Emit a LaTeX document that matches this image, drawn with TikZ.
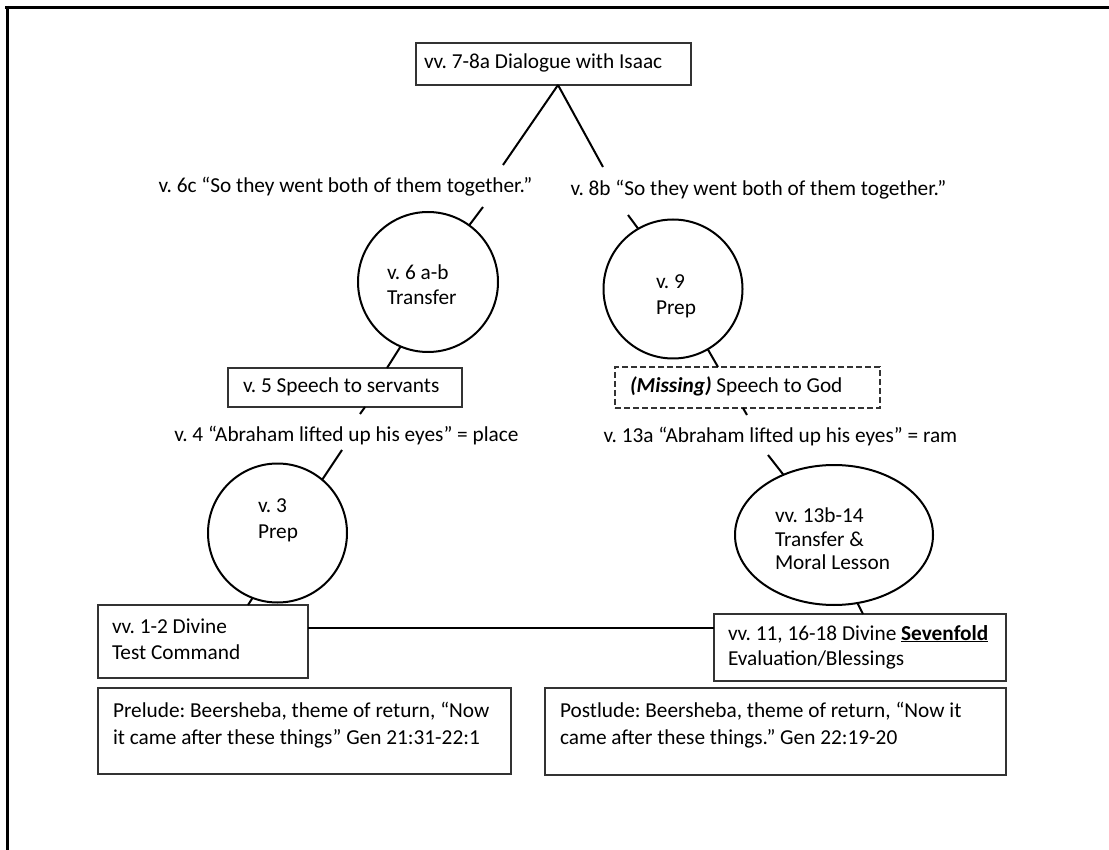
\documentclass[tikz,border=0pt]{standalone}
\usepackage{fontspec}
\setmainfont{Carlito}
\usetikzlibrary{shapes.geometric}
% left-aligned block of fixed width that never wraps
\newcommand{\boxlines}[2]{\makebox[#1][l]{\begin{tabular}{@{}l@{}}#2\end{tabular}}}
\begin{document}
\frenchspacing
\begin{tikzpicture}[x=1pt,y=-1pt,
  every node/.style={inner sep=0pt, outer sep=0pt},
  txt/.style={font=\fontsize{21.3}{25}\selectfont},
  lbl/.style={txt, anchor=center},
  inner/.style={txt, align=left, anchor=west},
  conn/.style={line width=2pt},
  box/.style={draw=black!80, line width=1.3pt, txt},
  dbox/.style={box, dash pattern=on 6pt off 3pt},
  circ/.style={draw, circle, line width=2pt, minimum size=#1},
  oval/.style={draw, ellipse, line width=2pt, minimum width=198pt, minimum height=140pt},
  bigbox/.style={draw=black!80, line width=1.3pt}
]
\useasboundingbox (0,0) rectangle (1109,850);

% page frame (top and left rules)
\draw[line width=2.7pt] (5,7.3) -- (1109,7.3);
\draw[line width=2.7pt] (7.3,6) -- (7.3,850);

% top of the chiasm
\node[box, minimum height=42pt, inner xsep=8pt] (dlg) at (553.5,64) {\boxlines{259pt}{vv. 7-8a Dialogue with Isaac}};

% left descending side
\node[lbl] (t6c) at (345.5,187) {v. 6c “So they went both of them together.”};
\node[circ=140pt] (c6) at (428,282) {};
\node[inner] (c6t) at (387,285) {v. 6 a-b\\Transfer};
\node[box, minimum height=39pt, inner xsep=15pt] (v5) at (345,387.5) {\boxlines{204pt}{v. 5 Speech to servants}};
\node[lbl] (t4) at (346.5,436) {v. 4 “Abraham lifted up his eyes” = place};
\node[circ=139pt] (c3) at (277.5,533) {};
\node[inner, font=\fontsize{21.3}{26}\selectfont] (c3t) at (258,520) {v. 3\\Prep};
\node[box, font=\fontsize{21.3}{26}\selectfont, minimum height=73pt, inner xsep=14pt] (b12) at (203,641.5) {\boxlines{182pt}{vv. 1-2 Divine\\Test Command}};

% right ascending side
\node[lbl] (t8b) at (758.5,190) {v. 8b “So they went both of them together.”};
\node[circ=139pt] (c9) at (673,289) {};
\node[inner, font=\fontsize{21.3}{26}\selectfont] (c9t) at (656,296) {v. 9\\Prep};
\node[dbox, minimum height=41pt, inner xsep=15pt] (mis) at (747.5,387.5) {\boxlines{235pt}{\textbf{\textit{(Missing)}} Speech to God}};
\node[lbl] (t13) at (780.5,437) {v. 13a “Abraham lifted up his eyes” = ram};
\node[oval] (e13) at (834,535) {};
\node[inner, font=\fontsize{21.3}{23.5}\selectfont] (e13t) at (775,539) {vv. 13b-14\\Transfer \&\\Moral Lesson};
\node[box, minimum height=67pt, inner xsep=14pt] (b11) at (860,647.5) {\boxlines{264pt}{vv. 11, 16-18 Divine \textbf{\underline{Sevenfold}}\\Evaluation/Blessings}};

% prelude and postlude frames
\node[bigbox, minimum width=413pt, minimum height=86pt] (prel) at (304.5,731) {\parbox[c][86pt][t]{383pt}{\raggedright\fontsize{21.3}{27}\selectfont\rule{0pt}{29pt}Prelude: Beersheba, theme of return, “Now\\it came after these things” Gen 21:31-22:1}};
\node[bigbox, minimum width=461pt, minimum height=87pt] (post) at (775.5,731.5) {\parbox[c][87pt][t]{431pt}{\raggedright\fontsize{21.3}{27}\selectfont\rule{0pt}{29pt}Postlude: Beersheba, theme of return, “Now it\\came after these things.” Gen 22:19-20}};

% free ends of the broken connectors
\coordinate (apex) at ([xshift=4.5pt]dlg.south);
\coordinate (legL) at (503,165);
\coordinate (legR) at (603,167);
\coordinate (u6) at (483,207);
\coordinate (d5) at (360,414);
\coordinate (u3) at (342,450);
\coordinate (u9) at (628,215);
\coordinate (dm) at (747,415);
\coordinate (u13) at (768,455);
\coordinate (hl) at ([yshift=13.5pt]b12.east);

% connectors
\draw[conn] (apex) -- (legL);
\draw[conn] (apex) -- (legR);
\draw[conn] (u6) -- (c6.54);
\draw[conn] (c6.247) -- ([xshift=42pt]v5.north);
\draw[conn] ([xshift=20pt]v5.south) -- (d5);
\draw[conn] (u3) -- (c3.50);
\draw[conn] (c3.249) -- ([xshift=45pt]b12.north);
\draw[conn] (hl) -- (hl -| b11.west);
\draw[conn] (u9) -- (c9.120);
\draw[conn] (c9.300) -- ([xshift=-29.5pt]mis.north);
\draw[conn] ([xshift=-4.5pt]mis.south) -- (dm);
\draw[conn] (u13) -- (e13.130);
\draw[conn] (e13.289) -- ([xshift=3pt]b11.north);
\end{tikzpicture}
\end{document}
